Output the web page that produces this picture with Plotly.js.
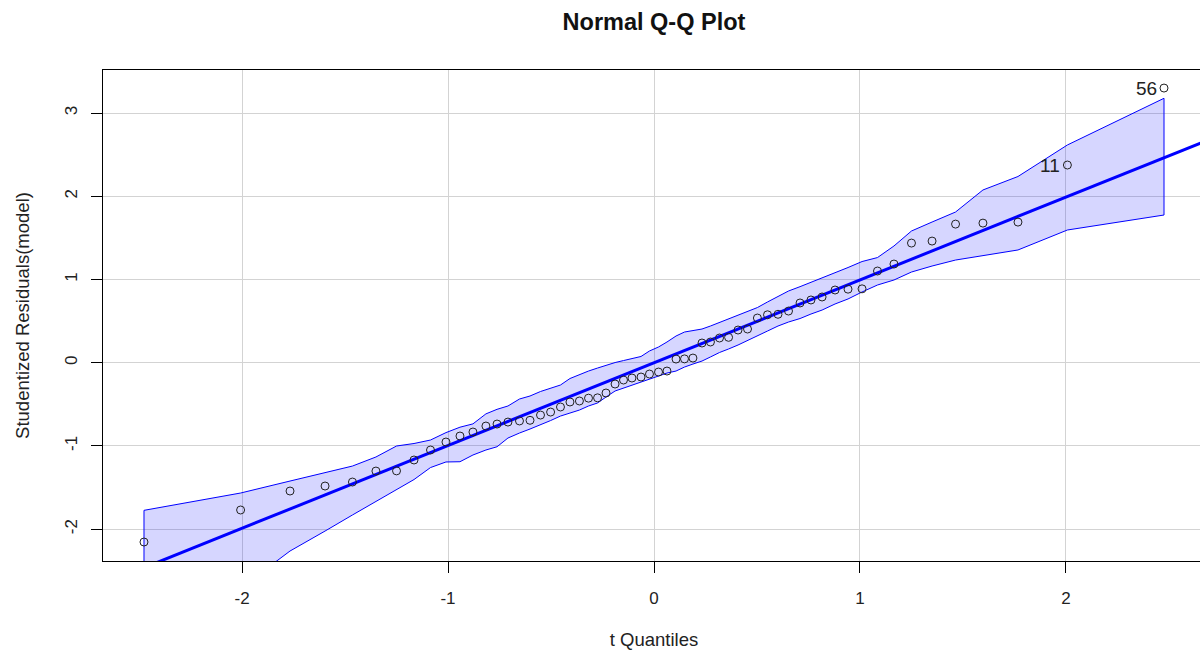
<!DOCTYPE html>
<html>
<head>
<meta charset="utf-8">
<script src="https://cdn.plot.ly/plotly-3.0.1.min.js"></script>
<style>
html, body { margin: 0; padding: 0; overflow: hidden; background: #fff; }
#chart { width: 1205px; height: 653px; }
</style>
</head>
<body>
<div id="chart"></div>
<script>
// t quantiles (x)
const tQuantiles = [
  -2.476, -2.007, -1.767, -1.597, -1.464, -1.350, -1.250, -1.165, -1.085, -1.010,
  -0.942, -0.879, -0.816, -0.762, -0.709, -0.653, -0.602, -0.551, -0.502, -0.454,
  -0.408, -0.362, -0.318, -0.274, -0.233, -0.189, -0.148, -0.107, -0.063, -0.022,
   0.022,  0.063,  0.107,  0.148,  0.189,  0.233,  0.274,  0.318,  0.362,  0.408,
   0.454,  0.502,  0.551,  0.602,  0.653,  0.709,  0.762,  0.816,  0.879,  0.942,
   1.010,  1.085,  1.165,  1.250,  1.350,  1.464,  1.597,  1.767,  2.007,  2.476
];
// studentized residuals (y), sorted
const studResid = [
  -2.155, -1.770, -1.542, -1.482, -1.434, -1.302, -1.300, -1.169, -1.049, -0.953,
  -0.881, -0.833, -0.761, -0.737, -0.713, -0.700, -0.692, -0.629, -0.593, -0.532,
  -0.472, -0.460, -0.426, -0.422, -0.364, -0.256, -0.208, -0.184, -0.172, -0.136,
  -0.112, -0.100,  0.044,  0.046,  0.056,  0.237,  0.249,  0.297,  0.305,  0.393,
   0.405,  0.537,  0.576,  0.582,  0.621,  0.718,  0.754,  0.790,  0.874,  0.884,
   0.888,  1.102,  1.186,  1.438,  1.462,  1.666,  1.678,  1.690,  2.376,  3.301
];
// confidence envelope
const envUpper = [
  -1.774, -1.566, -1.422, -1.326, -1.242, -1.133, -1.001, -0.971, -0.929, -0.840,
  -0.775, -0.735, -0.615, -0.560, -0.520, -0.436, -0.400, -0.346, -0.304, -0.268,
  -0.190, -0.142, -0.100, -0.064, -0.028,  0.002,  0.026,  0.050,  0.075,  0.141,
   0.189,  0.249,  0.321,  0.369,  0.387,  0.405,  0.441,  0.483,  0.525,  0.573,
   0.621,  0.663,  0.730,  0.796,  0.862,  0.914,  0.965,  1.018,  1.084,  1.144,
   1.216,  1.264,  1.403,  1.583,  1.691,  1.811,  2.076,  2.238,  2.617,  3.178
];
const envLower = [
  -3.400, -2.708, -2.263, -2.023, -1.830, -1.662, -1.524, -1.404, -1.260, -1.193,
  -1.190, -1.109, -1.049, -1.010, -0.905, -0.845, -0.797, -0.749, -0.695, -0.641,
  -0.605, -0.569, -0.520, -0.484, -0.412, -0.340, -0.304, -0.268, -0.232, -0.196,
  -0.160, -0.124, -0.100, -0.052, -0.016,  0.020,  0.069,  0.123,  0.165,  0.213,
   0.261,  0.321,  0.381,  0.441,  0.489,  0.531,  0.585,  0.633,  0.706,  0.766,
   0.850,  0.934,  0.994,  1.090,  1.162,  1.234,  1.282,  1.355,  1.595,  1.775
];
// reference line
const lineIntercept = 0.0;
const lineSlope = 0.995;
// labelled observations
const labelIndex = [58, 59];
const labelText = ["11", "56"];

const xRange = [-2.675, 2.675];
const yRange = [-2.383, 3.518];

const bandX = tQuantiles.concat(tQuantiles.slice().reverse(), [tQuantiles[0]]);
const bandY = envUpper.concat(envLower.slice().reverse(), [envUpper[0]]);

const FAM = 'Liberation Sans, Arial, sans-serif';

const band = {
  x: bandX, y: bandY, type: 'scatter', mode: 'lines',
  fill: 'toself', fillcolor: 'rgba(0,0,255,0.16)',
  line: {color: '#0000FF', width: 1}, hoverinfo: 'skip'
};
const fitLine = {
  x: xRange, y: xRange.map(v => lineIntercept + lineSlope * v),
  type: 'scatter', mode: 'lines',
  line: {color: '#0000FF', width: 3}, hoverinfo: 'skip'
};
const pts = {
  x: tQuantiles, y: studResid, type: 'scatter', mode: 'markers',
  marker: {symbol: 'circle-open', size: 8, color: '#222', line: {width: 1, color: '#222'}}
};

const annotations = labelIndex.map((i, k) => ({
  x: tQuantiles[i], y: studResid[i], xref: 'x', yref: 'y',
  text: labelText[k], showarrow: false, xanchor: 'right', yanchor: 'middle',
  xshift: -5, font: {family: FAM, size: 19, color: '#222'}
}));

const tickFont = {family: FAM, size: 17, color: '#222'};

const layout = {
  width: 1205, height: 653,
  margin: {l: 103, r: 0, t: 70, b: 92},
  paper_bgcolor: '#fff', plot_bgcolor: '#fff',
  showlegend: false,
  font: tickFont,
  title: {
    text: '<b>Normal Q-Q Plot</b>', x: 0.5, xref: 'paper', y: 0.966, yref: 'container',
    xanchor: 'center', yanchor: 'middle',
    font: {family: FAM, size: 23.5, color: '#111'}
  },
  xaxis: {
    range: xRange, autorange: false, tickvals: [-2, -1, 0, 1, 2], ticktext: ['-2', '-1', '0', '1', '2'],
    showgrid: true, gridcolor: '#D3D3D3', gridwidth: 1, zeroline: false,
    showline: true, linecolor: '#000', linewidth: 1, mirror: true,
    ticks: 'outside', ticklen: 11, tickcolor: '#000', tickwidth: 1,
    ticklabelstandoff: 11,
    tickfont: tickFont,
    title: {text: 't Quantiles', standoff: 25, font: {family: FAM, size: 18.5, color: '#222'}}
  },
  yaxis: {
    range: yRange, autorange: false, tickvals: [-2, -1, 0, 1, 2, 3], ticktext: ['-2', '-1', '0', '1', '2', '3'],
    showgrid: true, gridcolor: '#D3D3D3', gridwidth: 1, zeroline: false,
    showline: true, linecolor: '#000', linewidth: 1, mirror: true,
    ticks: 'outside', ticklen: 11, tickcolor: '#000', tickwidth: 1,
    tickangle: -90, ticklabelstandoff: 7,
    tickfont: tickFont,
    title: {text: 'Studentized Residuals(model)', standoff: 27, font: {family: FAM, size: 18.5, color: '#222'}}
  },
  annotations: annotations
};

Plotly.newPlot('chart', [band, fitLine, pts], layout, {staticPlot: true, displayModeBar: false});
</script>
</body>
</html>
